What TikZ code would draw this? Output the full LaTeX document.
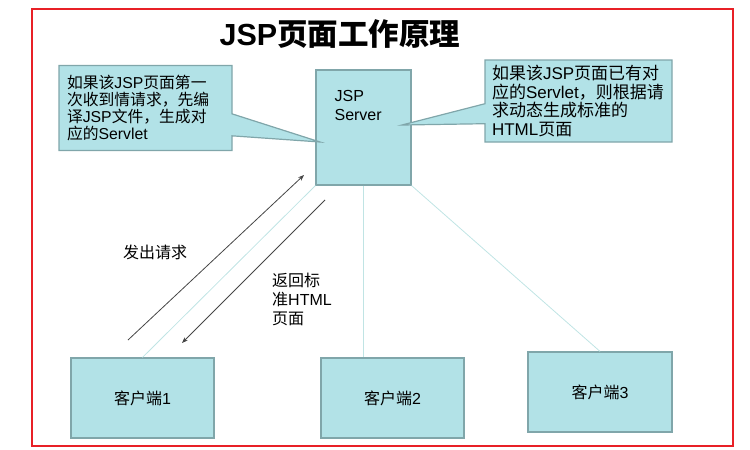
\documentclass[tikz,border=0pt]{standalone}
\usepackage{fontspec}
\setmainfont{Liberation Sans}
\newfontfamily\zh{Noto Sans CJK SC}
\usepackage{tikz}
\usetikzlibrary{positioning,arrows.meta,shapes.callouts}
\definecolor{boxfill}{RGB}{178,226,231}
\definecolor{boxline}{RGB}{128,166,170}
\definecolor{linkline}{RGB}{192,228,228}
\definecolor{framered}{RGB}{232,32,38}
\definecolor{arrowgray}{RGB}{70,70,70}
\tikzset{
  box/.style={rectangle, draw=boxline, fill=boxfill, line width=1.2pt, inner sep=0pt},
  client/.style={box, minimum width=143pt, minimum height=80pt, font=\fontsize{16}{18}\selectfont},
  bubble/.style={rectangle callout, draw=boxline, fill=boxfill, line width=1.2pt,
                 align=left, inner ysep=0pt, font=\fontsize{15.8}{17}\selectfont},
  link/.style={draw=linkline, line width=0.8pt},
  msg/.style={-{Stealth[length=6pt,width=4.5pt]}, draw=arrowgray, line width=0.8pt},
  lbl/.style={font=\fontsize{16}{19}\selectfont, inner sep=0pt},
}
\begin{document}
\begin{tikzpicture}[x=1pt, y=-1pt]
  \useasboundingbox (0,0) rectangle (750,450);
  \draw[framered, line width=2pt] (32,9) rectangle (733,446);
  \node[font=\fontsize{30.5}{32}\selectfont\bfseries] (title) at (340,34) {JSP{\zh 页面工作原理}};

  \node[box, minimum width=95pt, minimum height=115pt] (server) at (363.5,127.5) {};
  \node[lbl, align=left, anchor=north west] (srvlbl) at ([shift={(19,21)}]server.north west) {JSP\\Server};

  % callouts point into the server box
  \coordinate (tipL) at (320,142);
  \coordinate (tipR) at (402,125);
  \node[bubble, text width=157pt, inner xsep=8pt, minimum height=85pt,
        callout absolute pointer={(tipL)}, callout pointer width=22pt] (noteL) at (145.5,108)
        {{\zh 如果该}JSP{\zh 页面第一}\\{\zh 次收到情请求，先编}\\{\zh 译}JSP{\zh 文件，生成对}\\{\zh 应的}Servlet};
  \node[bubble, text width=173pt, inner xsep=7pt, minimum height=82pt,
        font=\fontsize{17}{18.5}\selectfont,
        callout absolute pointer={(tipR)}, callout pointer width=20pt] (noteR) at (578.5,101)
        {{\zh 如果该}JSP{\zh 页面已有对}\\{\zh 应的}Servlet{\zh ，则根据请}\\{\zh 求动态生成标准的}\\HTML{\zh 页面}};

  \node[client] (client1) at (142.5,398) {{\zh 客户端}1};
  \node[client] (client2) at (392.5,398) {{\zh 客户端}2};
  \node[client, minimum width=144pt] (client3) at (600,392) {{\zh 客户端}3};

  \draw[link] (client1.north) -- (server.south west);
  \draw[link] (server.south) -- (server.south |- client2.north);
  \draw[link] (server.south east) -- (client3.north);

  \coordinate (reqA) at (128,340);
  \coordinate (reqB) at (304,175);
  \coordinate (resA) at (325,200);
  \coordinate (resB) at (182,343);
  \draw[msg] (reqA) -- (reqB);
  \draw[msg] (resA) -- (resB);
  \node[lbl] (reqlbl) at (155,252) {\zh 发出请求};
  \node[lbl, align=left, anchor=west] (reslbl) at (272,299) {{\zh 返回标}\\{\zh 准}HTML\\{\zh 页面}};
\end{tikzpicture}
\end{document}
